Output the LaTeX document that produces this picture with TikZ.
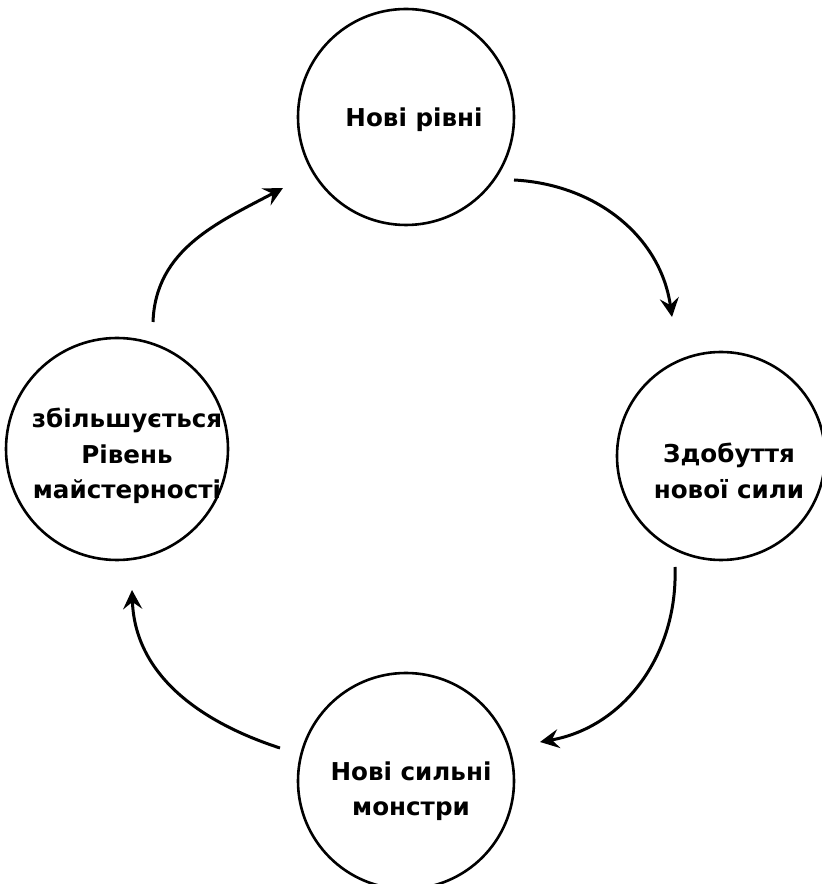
\documentclass[tikz,border=0pt]{standalone}
\usepackage{fontspec}
\setmainfont{DejaVu Sans}
\usetikzlibrary{arrows.meta}
\begin{document}
\begin{tikzpicture}[x=1pt,y=1pt,
  stage/.style={circle,draw=black,line width=2.6pt,minimum size=#1,inner sep=0pt},
  label/.style={font=\fontsize{24.6}{35.5}\selectfont\bfseries,align=center,inner sep=0pt,text=black},
  flow/.style={line width=3pt,-{Stealth[length=19pt,width=19pt,inset=7pt]}}]
  \useasboundingbox (0,0) rectangle (822,884);
  \fill[white] (0,0) rectangle (822,884);

  % four stages of the cycle
  \node[stage=216pt] (top)    at (406,767) {};
  \node[stage=208pt] (right)  at (721,428) {};
  \node[stage=216pt] (bottom) at (406,103) {};
  \node[stage=222pt] (left)   at (117,435) {};

  \node[label] (ttop)    at (414,764) {Нові рівні};
  \node[label] (tright)  at (729,413) {Здобуття\\нової сили};
  \node[label] (tbottom) at (411,93)  {Нові сильні\\монстри};
  \node[label] (tleft)   at (127,428) {збільшується\\Рівень\\майстерності};

  % arrow end points around the circles
  \coordinate (a1s) at (514,704);
  \coordinate (a1e) at (672,567);
  \coordinate (a2s) at (675,317);
  \coordinate (a2e) at (540,142);
  \coordinate (a3s) at (280,136);
  \coordinate (a3e) at (132,294);
  \coordinate (a4s) at (153,562);
  \coordinate (a4e) at (283,696);

  \draw[flow] (a1s) to[out=-3,in=98] (a1e);
  \draw[flow] (a2s) to[out=-88,in=10] (a2e);
  \draw[flow] (a3s) to[out=162,in=-88] (a3e);
  \draw[flow] (a4s) to[out=88,in=208] (a4e);
\end{tikzpicture}
\end{document}
